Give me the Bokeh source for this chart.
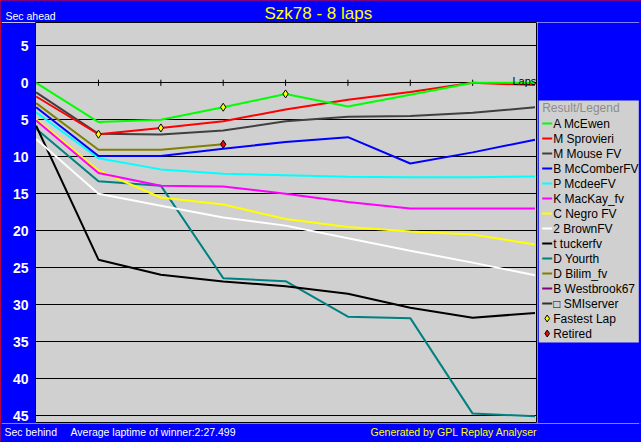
from bokeh.plotting import figure
from bokeh.models import Range1d, FixedTicker
from bokeh.layouts import column, row
from bokeh.core.properties import value
from bokeh.embed import file_html
from bokeh.resources import INLINE

FONT = value("Liberation Sans")

laps = [0, 1, 2, 3, 4, 5, 6, 7, 8]
tick_laps = [1, 2, 3, 4, 5, 6, 7]

# seconds behind the leader at the end of each lap
mcewen    = [0.0, 5.3, 5.0, 3.3, 1.5, 3.2, 1.6, 0.0, 0.0]
sprovieri = [1.85, 6.95, 6.1, 5.2, 3.6, 2.3, 1.25, 0.0, 0.3]
mouse     = [1.3, 6.9, 7.0, 6.45, 5.2, 4.6, 4.5, 4.05, 3.3]
mccomber  = [3.3, 9.9, 9.9, 8.9, 8.0, 7.35, 10.9, 9.4, 7.7]
mcdee     = [4.0, 10.2, 11.7, 12.3, 12.5, 12.7, 12.75, 12.75, 12.65]
mackay    = [5.1, 12.2, 13.9, 14.0, 15.0, 16.1, 17.0, 17.0, 17.0]
negro     = [4.9, 11.85, 15.5, 16.45, 18.4, 19.5, 20.1, 20.5, 21.85]
brown     = [7.6, 15.0, 16.6, 18.2, 19.3, 21.0, 22.7, 24.3, 26.0]
tucker    = [5.8, 23.9, 25.95, 26.85, 27.5, 28.5, 30.4, 31.75, 31.1]
yourth    = [6.2, 13.3, 13.9, 26.4, 26.8, 31.6, 31.8, 44.7, 45.05]
bilim     = [2.75, 9.05, 9.05, 8.3]
westbrook = []
smiserver = []

drivers = ["A McEwen", "M Sprovieri", "M Mouse FV", "B McComberFV", "P McdeeFV",
           "K MacKay_fv", "C Negro FV", "2 BrownFV", "t tuckerfv", "D Yourth",
           "D Bilim_fv", "B Westbrook67", "\u25a1 SMIserver"]
series = [mcewen, sprovieri, mouse, mccomber, mcdee, mackay, negro, brown,
          tucker, yourth, bilim, westbrook, smiserver]
colors = ["#00ff00", "#ff0000", "#404040", "#0000ff", "#00ffff", "#ff00ff",
          "#ffff00", "#ffffff", "#000000", "#008080", "#808000", "#800080", "#303030"]

fastest_laps = [1, 2, 3, 4]
fastest_gaps = [6.95, 6.1, 3.3, 1.5]
retired_laps = [3]
retired_gaps = [8.3]

y_ticks = [-5, 0, 5, 10, 15, 20, 25, 30, 35, 40, 45]
y_tick_labels = ["5", "0", "5", "10", "15", "20", "25", "30", "35", "40", "45"]

title_text = "Szk78 - 8 laps"
footer_texts = ["Sec behind", "Average laptime of winner:2:27.499"]
credit_text = "Generated by GPL Replay Analyser"

BLUE = "#0000ff"
GRAY = "#d0d0d0"
W, H = 641, 442
LEFT, FRAME_R, TOP, FRAME_B = 35, 537, 22, 423

common = dict(output_backend="svg", toolbar_location=None, tools="")

def strip(w, h):
    f = figure(width=w, height=h, x_range=Range1d(0, w), y_range=Range1d(h, 0),
               x_axis_type=None, y_axis_type=None, min_border=0,
               background_fill_color=BLUE, border_fill_color=BLUE,
               outline_line_color=None, **common)
    f.grid.visible = False
    return f

# ---- header
header = strip(W, TOP)
header.text(x=[5], y=[15.5], text=["Sec ahead"], text_color="white", text_font=FONT,
            text_font_size=value("10.5px"), text_baseline="middle")
header.text(x=[264], y=[12.5], text=[title_text], text_color="#ffff00", text_font=FONT,
            text_font_size=value("17px"), text_baseline="middle")

# ---- main chart
p = figure(width=FRAME_R, height=FRAME_B - TOP,
           x_range=Range1d(-0.01, 8.04), y_range=Range1d(46.04, -8.15),
           x_axis_type=None, min_border_left=LEFT, min_border_right=0,
           min_border_top=0, min_border_bottom=0,
           background_fill_color=GRAY, border_fill_color=BLUE,
           outline_line_color="black", outline_line_width=1, **common)
p.xgrid.visible = False
ticker = FixedTicker(ticks=y_ticks)
p.yaxis.ticker = ticker
p.ygrid.ticker = ticker
p.yaxis.major_label_overrides = {t: l for t, l in zip(y_ticks, y_tick_labels)}
p.yaxis.axis_line_color = None
p.yaxis.major_tick_line_color = None
p.yaxis.minor_tick_line_color = None
p.yaxis.major_tick_out = 0
p.yaxis.major_tick_in = 0
p.yaxis.minor_tick_out = 0
p.yaxis.major_label_text_color = "white"
p.yaxis.major_label_text_font = "Liberation Sans"
p.yaxis.major_label_text_font_style = "bold"
p.yaxis.major_label_text_font_size = "14px"
p.yaxis.major_label_standoff = 7
p.ygrid.grid_line_color = "black"
p.ygrid.grid_line_width = 1
p.ygrid.grid_line_alpha = 1

p.segment(x0=tick_laps, y0=[-0.42] * len(tick_laps), x1=tick_laps, y1=[0.42] * len(tick_laps),
          line_color="black", line_width=1)

for name, vals, col in reversed(list(zip(drivers, series, colors))):
    if vals:
        p.line(laps[:len(vals)], vals, line_color=col, line_width=2)

p.scatter(fastest_laps, fastest_gaps, marker="diamond", size=8,
          fill_color="#ffff00", line_color="black", line_width=1)
p.scatter(retired_laps, retired_gaps, marker="diamond", size=8,
          fill_color="#ff0000", line_color="black", line_width=1)

p.text(x=[laps[-1] + 0.02], y=[-0.25], text=["Laps"], text_align="right",
       text_baseline="alphabetic", text_color="black", text_font=FONT,
       text_font_size=value("11px"))

# ---- legend panel (pixel coordinates relative to its own area)
LW = W - FRAME_R
leg = strip(LW, FRAME_B - TOP)
n_items = len(drivers) + 2
row_y = [101 + 15 * i for i in range(n_items)]
leg.quad(left=[1.3], right=[101.3], top=[78], bottom=[320], fill_color=GRAY, line_color=None)
leg.text(x=[4.7], y=[85], text=["Result/Legend"], text_color="#8c8c8c", text_font=FONT,
         text_font_size=value("12px"), text_baseline="middle")
nd = len(drivers)
leg.segment(x0=[4.7] * nd, y0=row_y[:nd], x1=[14.7] * nd, y1=row_y[:nd],
            line_color=colors, line_width=2)
leg.scatter(x=[9.7], y=[row_y[nd]], marker="diamond", size=7,
            fill_color="#ffff00", line_color="black", line_width=1)
leg.scatter(x=[9.7], y=[row_y[nd + 1]], marker="diamond", size=7,
            fill_color="#ff0000", line_color="black", line_width=1)
leg.text(x=[15.7] * n_items, y=row_y, text=drivers + ["Fastest Lap", "Retired"],
         text_color="black", text_font=FONT, text_font_size=value("12px"),
         text_baseline="middle")

# ---- footer
footer = strip(W, H - FRAME_B)
footer.text(x=[4, 70], y=[8, 8], text=footer_texts, text_color="white", text_font=FONT,
            text_font_size=value("10.5px"), text_baseline="middle")
footer.text(x=[FRAME_R], y=[8], text=[credit_text], text_color="#ffff00", text_font=FONT,
            text_font_size=value("10.5px"), text_baseline="middle", text_align="right")

layout = column(header, row(p, leg, spacing=0), footer, spacing=0,
                styles={"outline": "2px solid #ff0000", "outline-offset": "-2px"})

open("out.html", "w").write(file_html(layout, INLINE, title=title_text))
